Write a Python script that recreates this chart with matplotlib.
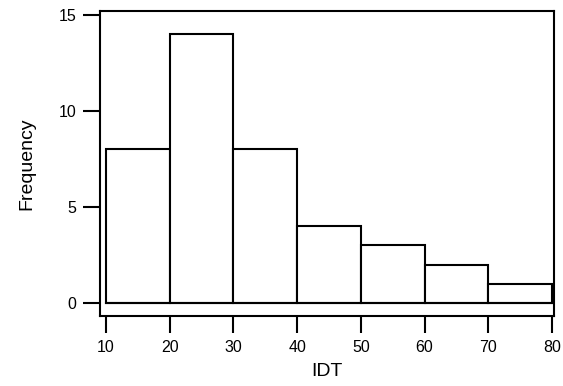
import matplotlib
matplotlib.use("Agg")
import matplotlib.pyplot as plt

plt.rcParams['font.family'] = ['Liberation Sans', 'DejaVu Sans']

bin_edges = [10, 20, 30, 40, 50, 60, 70, 80]
counts = [8, 14, 8, 4, 3, 2, 1]
xticks = [10, 20, 30, 40, 50, 60, 70, 80]
yticks = [0, 5, 10, 15]

fig = plt.figure(figsize=(5.63, 3.86), dpi=100)
ax = fig.add_axes([0.1776, 0.181, 0.8064, 0.7905])

ax.hist(bin_edges[:-1], bins=bin_edges, weights=counts,
        histtype='bar', facecolor='white', edgecolor='black', linewidth=1.5)
# baseline under bars
ax.plot([bin_edges[0], bin_edges[-1]], [0, 0], color='black', lw=1.5)

ax.set_xlim(9.06, 80.3)
ax.set_ylim(-0.68, 15.2)
ax.set_xticks(xticks)
ax.set_yticks(yticks)
ax.tick_params(direction='out', length=12, width=1.5, labelsize=11.5, pad=5)
for s in ax.spines.values():
    s.set_linewidth(1.5)

ax.set_xlabel("IDT", fontsize=14, labelpad=6)
ax.set_ylabel("Frequency", fontsize=14, labelpad=17)

fig.savefig("out.png", dpi=100)
